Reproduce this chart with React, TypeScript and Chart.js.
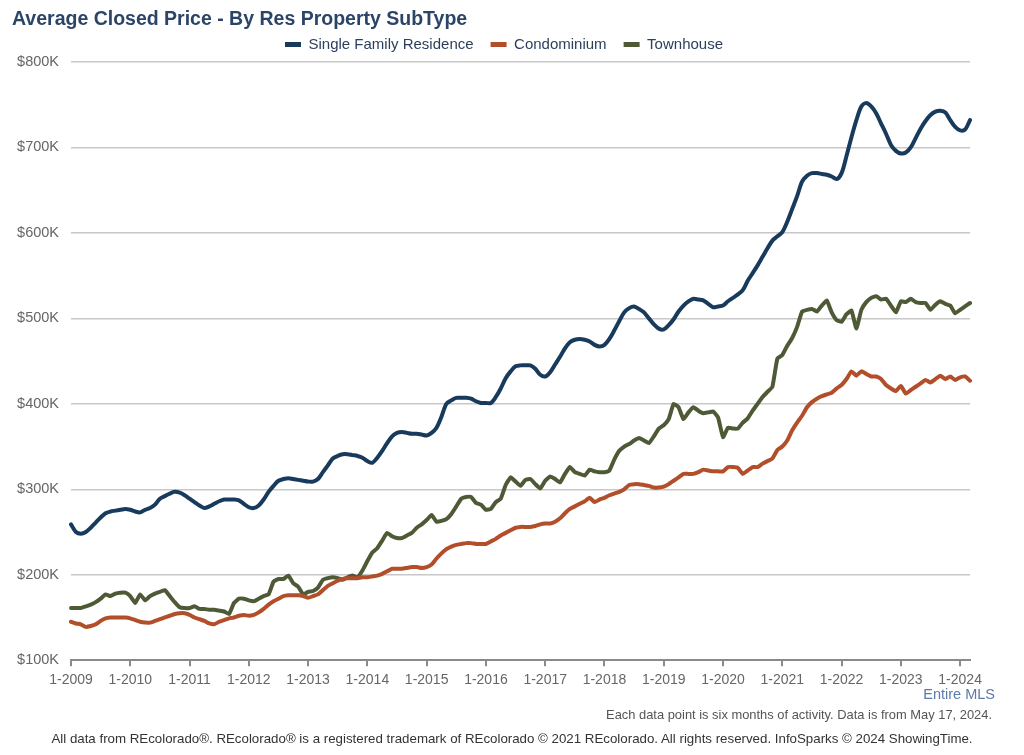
import React, { useEffect, useRef } from "react";
import { Chart, registerables } from "chart.js";

Chart.register(...registerables);

const FONT = "'Liberation Sans', Arial, Helvetica, sans-serif";

const startYear = 2009;
const pointCount = 183; // 1-2009 .. 3-2024
const monthLabels: string[] = [];
for (let i = 0; i < pointCount; i++) {
  monthLabels.push(`${(i % 12) + 1}-${startYear + Math.floor(i / 12)}`);
}

const xTickLabels = [
  "1-2009", "1-2010", "1-2011", "1-2012", "1-2013", "1-2014", "1-2015", "1-2016",
  "1-2017", "1-2018", "1-2019", "1-2020", "1-2021", "1-2022", "1-2023", "1-2024",
];

const yTicks = [100, 200, 300, 400, 500, 600, 700, 800];

const seriesNames = ["Single Family Residence", "Condominium", "Townhouse"];
const seriesColors = ["#183a5c", "#b24f2a", "#4e5a36"];
const seriesTension = [0.3, 0.15, 0.12];

// values in $K
const singleFamily = [
  259, 250, 248, 250, 255, 261, 267, 272, 274, 275, 276, 277,
  276, 274, 273, 276, 278, 282, 289, 292, 295, 297, 296, 293,
  289, 285, 281, 278, 280, 283, 286, 288, 288, 288, 287, 283,
  279, 278, 281, 288, 297, 304, 310, 312, 313, 312, 311, 310,
  309, 309, 312, 320, 328, 336, 339, 341, 341, 340, 339, 337,
  333, 331, 337, 345, 354, 362, 366, 367, 366, 365, 365, 364,
  363, 366, 372, 385, 400, 404, 407, 407, 407, 406, 403, 401,
  401, 401, 408, 418, 430, 438, 444, 445, 445, 445, 441, 434,
  432, 437, 446, 455, 465, 472, 475, 476, 475, 473, 469, 467,
  469, 476, 486, 497, 507, 512, 514, 511, 507, 500, 493, 488,
  487, 492, 499, 508, 515, 520, 523, 522, 521, 517, 513, 514,
  515, 520, 524, 528, 533, 544, 553, 562, 572, 582, 591, 596,
  601, 613, 628, 643, 660, 667, 670, 670, 669, 668, 666, 663,
  670, 690, 712, 732, 748, 752, 748, 740, 728, 716, 703, 696,
  693, 694, 700, 711, 722, 731, 738, 742, 743, 741, 732, 724,
  720, 721, 732,
];

const condominium = [
  145, 143, 142, 139, 140, 142, 146, 149, 150, 150, 150, 150,
  149, 147, 145, 144, 144, 146, 148, 150, 152, 154, 155, 155,
  153, 150, 148, 146, 143, 142, 145, 147, 149, 150, 152, 153,
  152, 153, 156, 160, 165, 169, 172, 175, 176, 176, 176, 175,
  173, 175, 177, 182, 187, 190, 193, 195, 196, 196, 196, 197,
  197, 198, 199, 201, 204, 207, 207, 207, 208, 209, 209, 208,
  209, 212, 219, 225, 230, 233, 235, 236, 237, 237, 236, 236,
  236, 239, 242, 246, 249, 252, 255, 256, 256, 256, 257, 259,
  260, 260, 262, 266, 272, 277, 280, 283, 286, 290, 285, 288,
  290, 293, 295, 297, 300, 305, 306, 306, 305, 304, 302, 302,
  303, 306, 310, 314, 318, 318, 318, 320, 323, 322, 321, 321,
  321, 326, 326, 325, 318, 322, 326, 326, 330, 333, 336, 346,
  350, 357, 369, 378, 386, 396, 402, 406, 409, 411, 413, 418,
  422, 429, 438, 433, 438, 435, 432, 432, 429, 422, 418, 415,
  421, 412, 416, 420, 424, 428, 425, 429, 433, 429, 432, 428,
  431, 432, 427,
];

const townhouse = [
  161, 161, 161, 163, 165, 168, 172, 177, 175, 178, 179, 179,
  175, 167, 177, 170, 175, 178, 180, 182, 175, 168, 162, 161,
  161, 163, 160, 160, 159, 159, 158, 157, 154, 167, 172, 172,
  170, 169, 172, 175, 177, 192, 195, 195, 199, 190, 186, 177,
  180, 181, 185, 194, 196, 197, 196, 194, 197, 199, 197, 205,
  216, 226, 231, 240, 249, 245, 243, 243, 246, 249, 255, 259,
  264, 270, 262, 263, 265, 271, 280, 289, 291, 291, 284, 282,
  276, 277, 285, 289, 305, 314, 309, 304, 311, 312, 306, 301,
  310, 315, 312, 308, 318, 326, 320, 318, 316, 323, 321, 320,
  320, 322, 335, 345, 350, 353, 357, 360, 357, 354, 362, 371,
  375, 382, 400, 396, 382, 390, 396, 392, 389, 390, 391, 384,
  361, 372, 371, 371, 378, 383, 392, 400, 408, 414, 420, 453,
  457, 468, 477, 490, 508, 510, 511, 508, 515, 521, 507, 498,
  496, 505, 509, 488, 510, 519, 524, 526, 522, 523, 515, 507,
  520, 519, 523, 519, 518, 518, 510, 516, 520, 517, 515, 506,
  510, 514, 518,
];

const seriesValues = [singleFamily, condominium, townhouse];

const titleText = "Average Closed Price - By Res Property SubType";
const regionText = "Entire MLS";
const noteText = "Each data point is six months of activity. Data is from May 17, 2024.";
const footerText =
  "All data from REcolorado®. REcolorado® is a registered trademark of REcolorado © 2021 REcolorado. All rights reserved. InfoSparks © 2024 ShowingTime.";

const legendShift = {
  id: "legendShift",
  afterLayout(chart: any) {
    const lg = chart.legend;
    if (lg) {
      lg.left += 13;
      lg.right += 13;
      if (lg.legendHitBoxes) lg.legendHitBoxes.forEach((h: any) => (h.left += 13));
    }
  },
};

export default function App() {
  const canvasRef = useRef<HTMLCanvasElement | null>(null);

  useEffect(() => {
    const canvas = canvasRef.current;
    if (!canvas) return;
    const chart = new Chart(canvas, {
      type: "line",
      plugins: [legendShift],
      data: {
        labels: monthLabels,
        datasets: seriesNames.map((name, i) => ({
          label: name,
          data: seriesValues[i],
          borderColor: seriesColors[i],
          backgroundColor: seriesColors[i],
          borderWidth: 4,
          pointRadius: 0,
          tension: seriesTension[i],
          borderCapStyle: "round" as const,
          borderJoinStyle: "round" as const,
          fill: false,
        })),
      },
      options: {
        animation: false,
        responsive: true,
        maintainAspectRatio: false,
        layout: { padding: { top: 20, left: 12, right: 54, bottom: 60 } },
        plugins: {
          tooltip: { enabled: false },
          title: { display: false },
          legend: {
            position: "top",
            maxHeight: 44,
            labels: {
              boxWidth: 16,
              boxHeight: 5,
              padding: 17,
              color: "#2b3f5c",
              font: { size: 15, family: FONT },
              generateLabels: (c: any) =>
                c.data.datasets.map((ds: any, i: number) => ({
                  text: ds.label,
                  fillStyle: ds.borderColor,
                  strokeStyle: ds.borderColor,
                  lineWidth: 0,
                  hidden: false,
                  datasetIndex: i,
                  fontColor: "#2b3f5c",
                })),
            },
          },
        },
        scales: {
          x: {
            type: "category",
            offset: false,
            grid: {
              drawOnChartArea: false,
              drawTicks: true,
              tickLength: 6,
              color: "#8a8a8a",
              lineWidth: 2,
            },
            border: { color: "#8a8a8a", width: 2 },
            ticks: {
              autoSkip: false,
              maxRotation: 0,
              minRotation: 0,
              padding: 6,
              color: "#666666",
              font: { size: 14, family: FONT },
              callback: (_v: any, idx: number) => {
                const l = monthLabels[idx];
                return xTickLabels.includes(l) ? l : null;
              },
            },
          },
          y: {
            min: yTicks[0],
            max: yTicks[yTicks.length - 1],
            afterFit: (s: any) => {
              s.width = 59;
            },
            grid: { color: "#c8c8c8", lineWidth: 1.5, drawTicks: false },
            border: { display: false },
            ticks: {
              stepSize: 100,
              padding: 12,
              color: "#666666",
              font: { size: 14.5, family: FONT },
              callback: (v: any) => "$" + v + "K",
            },
          },
        },
      },
    });
    return () => chart.destroy();
  }, []);

  return (
    <div
      style={{
        position: "absolute",
        left: 0,
        top: 0,
        width: 1024,
        height: 755,
        background: "#ffffff",
        fontFamily: FONT,
      }}
    >
      <canvas ref={canvasRef} />
      <div
        style={{
          position: "absolute",
          left: 12,
          top: 7,
          fontSize: 19.5,
          fontWeight: "bold",
          color: "#2b4568",
          whiteSpace: "nowrap",
          lineHeight: "22px",
        }}
      >
        {titleText}
      </div>
      <div
        style={{
          position: "absolute",
          right: 29,
          top: 685,
          fontSize: 14.5,
          color: "#5b7bab",
          whiteSpace: "nowrap",
          lineHeight: "18px",
        }}
      >
        {regionText}
      </div>
      <div
        style={{
          position: "absolute",
          right: 32,
          top: 707,
          fontSize: 12.9,
          color: "#555555",
          whiteSpace: "nowrap",
          lineHeight: "16px",
        }}
      >
        {noteText}
      </div>
      <div
        style={{
          position: "absolute",
          left: 0,
          width: 1024,
          top: 731,
          textAlign: "center",
          fontSize: 13.3,
          color: "#333333",
          whiteSpace: "nowrap",
          lineHeight: "16px",
        }}
      >
        {footerText}
      </div>
    </div>
  );
}
